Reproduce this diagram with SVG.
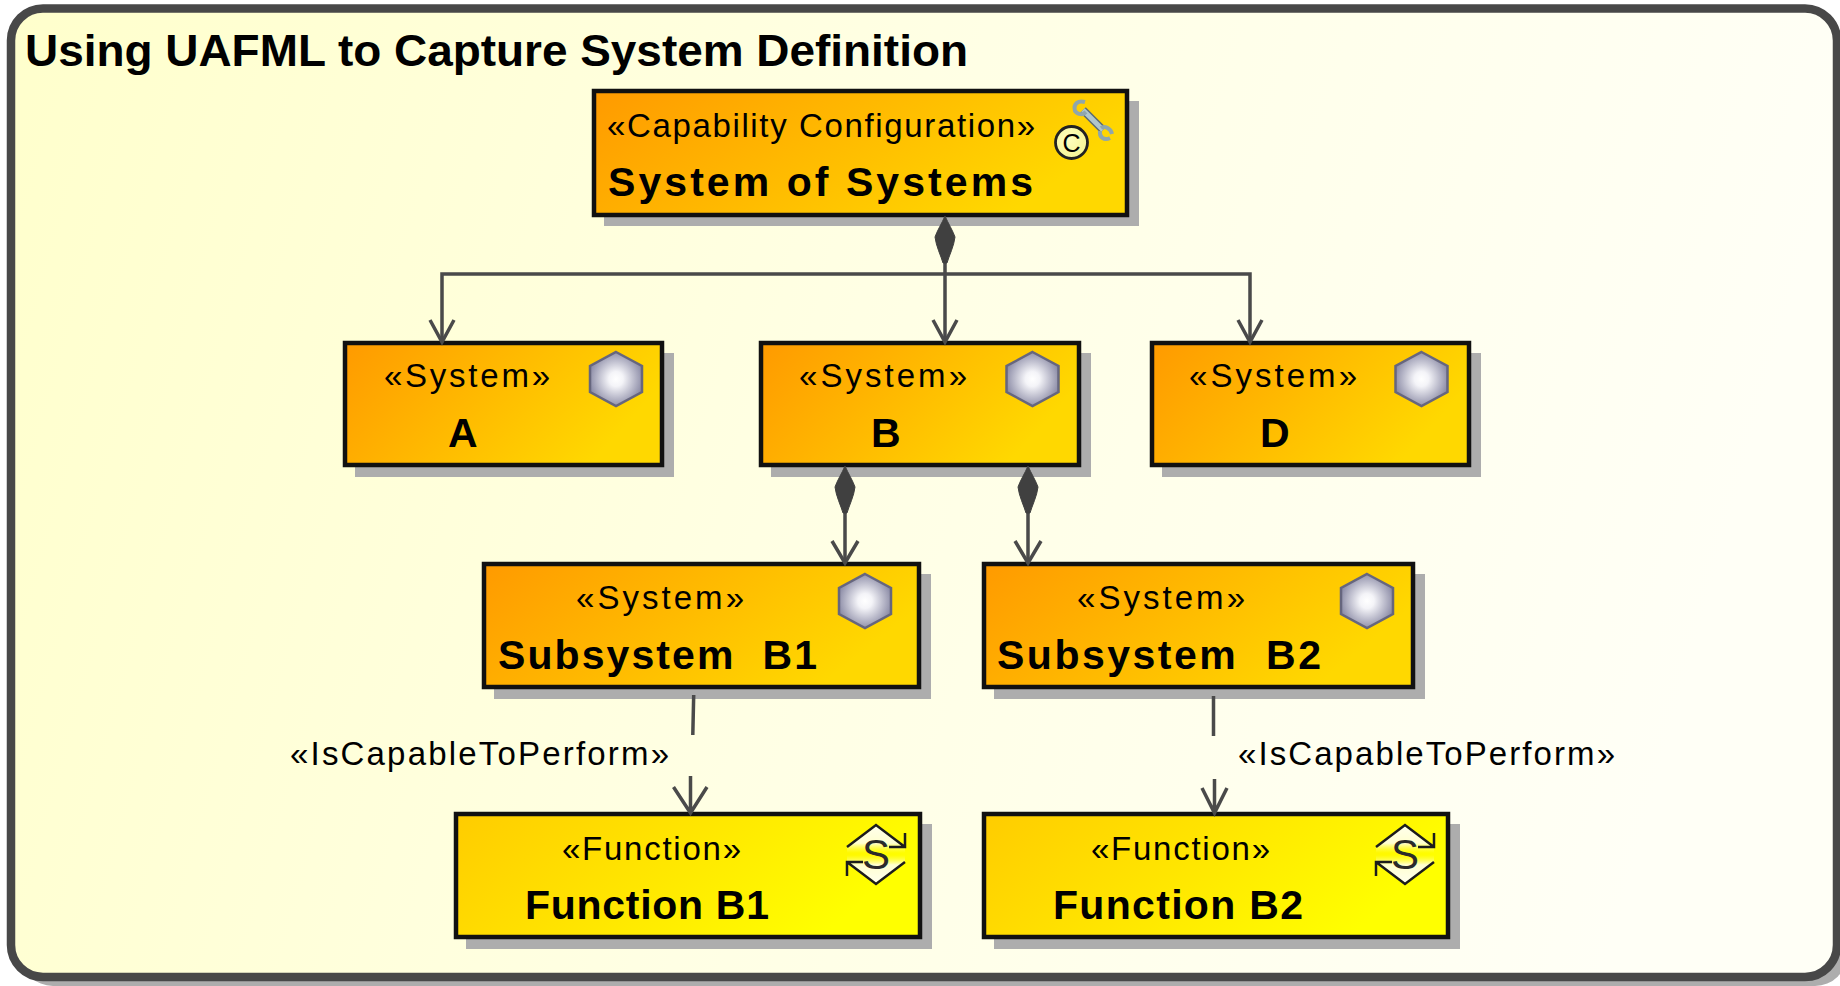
<svg xmlns="http://www.w3.org/2000/svg" width="1840" height="986" viewBox="0 0 1840 986">
<style>
text{font-family:"Liberation Sans",Arial,sans-serif;fill:#000}
.t{font-weight:700;font-size:44px}
.st{font-size:33px}
.nm{font-weight:700;font-size:41px;white-space:pre}
.sys{fill:url(#gs);stroke:#111;stroke-width:4.5}
.fn{fill:url(#gf);stroke:#111;stroke-width:4.5}
.sh{fill:#adadad}
.c{fill:none;stroke:#4a4a4a;stroke-width:3.5}
.d{fill:#404040;stroke:#404040;stroke-width:1;stroke-linejoin:round}
.hex{fill:url(#gh);stroke:#66667e;stroke-width:2.5}
.ic{fill:none;stroke:#1c1c1c;stroke-width:2.5}
</style>
<defs>
<linearGradient id="gb" x1="0" y1="0" x2="1" y2="0.15"><stop offset="0" stop-color="#ffffcc"/><stop offset="0.5" stop-color="#ffffe4"/><stop offset="1" stop-color="#fffff6"/></linearGradient>
<linearGradient id="gs" x1="0" y1="0" x2="1" y2="0.35"><stop offset="0" stop-color="#ff9a00"/><stop offset="1" stop-color="#ffd800"/></linearGradient>
<linearGradient id="gf" x1="0" y1="0" x2="1" y2="0.3"><stop offset="0" stop-color="#ffcc00"/><stop offset="1" stop-color="#ffff00"/></linearGradient>
<radialGradient id="gh" cx="0.5" cy="0.5" r="0.55"><stop offset="0" stop-color="#ffffff"/><stop offset="0.25" stop-color="#f4f4f8"/><stop offset="1" stop-color="#8484a0"/></radialGradient>
<linearGradient id="gi" x1="0" y1="0" x2="0" y2="1"><stop offset="0" stop-color="#ffffee"/><stop offset="0.65" stop-color="#ffffd0"/><stop offset="1" stop-color="#ffff60" stop-opacity="0"/></linearGradient>
<linearGradient id="gj" x1="0" y1="1" x2="0" y2="0"><stop offset="0" stop-color="#ffffee"/><stop offset="0.65" stop-color="#ffffd0"/><stop offset="1" stop-color="#ffff60" stop-opacity="0"/></linearGradient>
<radialGradient id="gc" cx="0.4" cy="0.4" r="0.7"><stop offset="0" stop-color="#ffffc0"/><stop offset="1" stop-color="#f4f490"/></radialGradient>
<polygon id="hx" class="hex" points="0,-27 26,-13 26,13 0,27 -26,13 -26,-13"/>
<g id="fi">
<path d="M-29,-8 L0,-29 L29,-8 L29,-1 L-29,-1 Z" fill="url(#gi)"/>
<path d="M29,8 L0,29 L-29,8 L-29,1 L29,1 Z" fill="url(#gj)"/>
<path class="ic" d="M-29,-7 L0,-29 L29,-7 M29,-21 L29,-7 L13,-7 M29,8 L0,30 L-29,8 M-29,22 L-29,8 L-13,8"/>
<text x="0" y="15" text-anchor="middle" font-size="42" style="fill:#2a2a2a">S</text>
</g>
<path id="dm" class="d" d="M0,0 C3,7 8,15 10,21 C9,30 4,40 2,47 L-2,47 C-4,40 -9,30 -10,21 C-8,15 -3,7 0,0 Z"/>
</defs>
<rect id="frame-shadow" x="21" y="19" width="1826" height="967" rx="32" fill="#adadad"/>
<rect id="frame" x="11" y="8.5" width="1826" height="968.5" rx="32" fill="url(#gb)" stroke="#484848" stroke-width="8.5"/>
<text class="t" x="25" y="66" textLength="943" lengthAdjust="spacingAndGlyphs">Using UAFML to Capture System Definition</text>
<g id="node-sos">
<rect class="sh" x="604" y="101" width="535" height="125"/>
<rect class="sys" x="594" y="91" width="533" height="124"/>
<text class="st" x="607" y="137" textLength="428" lengthAdjust="spacing">«Capability Configuration»</text>
<text class="nm" x="608" y="196" textLength="425" lengthAdjust="spacing">System of Systems</text>
<g>
<path d="M1083,110 L1103,130" fill="none" stroke="#5a6a70" stroke-width="8"/>
<path d="M1083,110 L1103,130" fill="none" stroke="#b0c6cc" stroke-width="5"/>
<path d="M1085,102 C1078,100 1073,104 1075,111 C1078,115 1083,115 1086,112" fill="none" stroke="#8fa6ac" stroke-width="4"/>
<path d="M1100,131 C1099,137 1104,141 1110,138 M1101,128 C1105,125 1111,129 1112,134" fill="none" stroke="#8fa6ac" stroke-width="4"/>
<circle cx="1071.5" cy="142.5" r="16" fill="url(#gc)" stroke="#222" stroke-width="2.8"/>
<text x="1071.5" y="151.5" text-anchor="middle" font-size="25">C</text>
</g>
</g>
<g id="node-a">
<rect class="sh" x="355" y="353" width="319" height="124"/>
<rect class="sys" x="345" y="343" width="317" height="122"/>
<text class="st" x="384" y="387" textLength="166" lengthAdjust="spacing">«System»</text>
<text class="nm" x="448" y="447">A</text>
<use href="#hx" x="616" y="379"/>
</g>
<g id="node-b">
<rect class="sh" x="771" y="353" width="320" height="124"/>
<rect class="sys" x="761" y="343" width="318" height="122"/>
<text class="st" x="799" y="387" textLength="168" lengthAdjust="spacing">«System»</text>
<text class="nm" x="871" y="447">B</text>
<use href="#hx" x="1032.5" y="379"/>
</g>
<g id="node-d">
<rect class="sh" x="1162" y="353" width="319" height="124"/>
<rect class="sys" x="1152" y="343" width="317" height="122"/>
<text class="st" x="1189" y="387" textLength="168" lengthAdjust="spacing">«System»</text>
<text class="nm" x="1260" y="447">D</text>
<use href="#hx" x="1421.5" y="379"/>
</g>
<g id="node-b1">
<rect class="sh" x="494" y="574" width="437" height="125"/>
<rect class="sys" x="484" y="564" width="435" height="123"/>
<text class="st" x="576" y="609" textLength="168" lengthAdjust="spacing">«System»</text>
<text class="nm" x="498" y="669" textLength="319" lengthAdjust="spacing">Subsystem  B1</text>
<use href="#hx" x="865" y="601"/>
</g>
<g id="node-b2">
<rect class="sh" x="994" y="574" width="431" height="125"/>
<rect class="sys" x="984" y="564" width="429" height="123"/>
<text class="st" x="1077" y="609" textLength="168" lengthAdjust="spacing">«System»</text>
<text class="nm" x="997" y="669" textLength="324" lengthAdjust="spacing">Subsystem  B2</text>
<use href="#hx" x="1367" y="601"/>
</g>
<g id="node-f1">
<rect class="sh" x="466" y="824" width="466" height="125"/>
<rect class="fn" x="456" y="814" width="464" height="123"/>
<text class="st" x="562" y="860" textLength="179" lengthAdjust="spacing">«Function»</text>
<text class="nm" x="525" y="919" textLength="244" lengthAdjust="spacing">Function B1</text>
<use href="#fi" x="876" y="854"/>
</g>
<g id="node-f2">
<rect class="sh" x="994" y="824" width="466" height="125"/>
<rect class="fn" x="984" y="814" width="464" height="123"/>
<text class="st" x="1091" y="860" textLength="179" lengthAdjust="spacing">«Function»</text>
<text class="nm" x="1053" y="919" textLength="250" lengthAdjust="spacing">Function B2</text>
<use href="#fi" x="1405" y="854"/>
</g>
<g id="connectors">
<path class="c" d="M945,262 V340 M945,274 H442 V340 M945,274 H1250 V340"/>
<path class="c" d="M430,320 L442,342 L454,320 M933,320 L945,342 L957,320 M1238,320 L1250,342 L1262,320"/>
<use href="#dm" x="945" y="216"/>
<path class="c" d="M845,505 V561 M1028,505 V561"/>
<path class="c" d="M832,541 L845,563 L858,541 M1015,541 L1028,563 L1041,541"/>
<use href="#dm" x="845" y="466"/><use href="#dm" x="1028" y="466"/>
<path class="c" d="M693.7,695 L692.8,735 M690.5,776 V812 M673.5,787 L690.5,813 L707,787"/>
<path class="c" d="M1213.5,696 V736 M1214.5,779 V812 M1202,788 L1214.5,813 L1227,788"/>
<text class="st" x="290" y="765" textLength="379" lengthAdjust="spacing">«IsCapableToPerform»</text>
<text class="st" x="1238" y="765" textLength="377" lengthAdjust="spacing">«IsCapableToPerform»</text>
</g>
</svg>
